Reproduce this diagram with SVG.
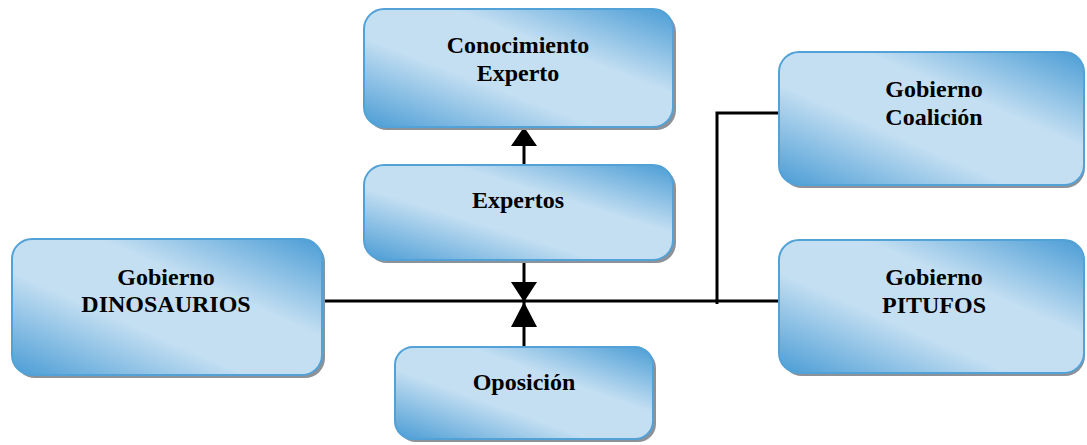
<svg xmlns="http://www.w3.org/2000/svg" width="1087" height="445" viewBox="0 0 1087 445">
<style>
.box{fill:url(#g);stroke:#52a2d8;stroke-width:2}
.sh{fill:#8c9298}
.t{font-family:"Liberation Serif","Times New Roman",serif;font-weight:bold;font-size:24px;fill:#000;text-anchor:middle}
.c{stroke:#000;stroke-width:3;fill:none}
.a{fill:#000}
</style>
<defs>
<linearGradient id="g" x1="0" y1="1" x2="1" y2="0">
<stop offset="0" stop-color="#4a9cd5"/>
<stop offset="0.38" stop-color="#c4dff2"/>
<stop offset="0.64" stop-color="#c4dff2"/>
<stop offset="1" stop-color="#4a9cd5"/>
</linearGradient>
</defs>
<rect width="1087" height="445" fill="#fff"/>
<g id="connectors">
<path class="c" d="M322 301 H779"/>
<path class="c" d="M717 304 V113 H779"/>
<path class="c" d="M524 127 V165"/>
<path class="c" d="M524 260 V347"/>
<polygon class="a" points="524,127 511,146 537,146"/>
<polygon class="a" points="524,302 511,282 537,282"/>
<polygon class="a" points="524,302 511,327 537,327"/>
</g>
<g id="conocimiento">
<rect class="sh" x="367" y="12" width="309" height="118" rx="20"/>
<rect class="box" x="364" y="9" width="309" height="118" rx="20"/>
<text class="t" x="518" y="53">Conocimiento</text>
<text class="t" x="518" y="81">Experto</text>
</g>
<g id="expertos">
<rect class="sh" x="367" y="168" width="309" height="95" rx="20"/>
<rect class="box" x="364" y="165" width="309" height="95" rx="20"/>
<text class="t" x="518" y="208">Expertos</text>
</g>
<g id="dinosaurios">
<rect class="sh" x="15" y="242" width="310" height="136" rx="20"/>
<rect class="box" x="12" y="239" width="310" height="136" rx="20"/>
<text class="t" x="166" y="285">Gobierno</text>
<text class="t" x="166" y="312">DINOSAURIOS</text>
</g>
<g id="oposicion">
<rect class="sh" x="398" y="350" width="258" height="92" rx="18"/>
<rect class="box" x="395" y="347" width="258" height="92" rx="18"/>
<text class="t" x="524" y="390">Oposición</text>
</g>
<g id="coalicion">
<rect class="sh" x="782" y="55" width="303" height="133" rx="20"/>
<rect class="box" x="779" y="52" width="305" height="133" rx="20"/>
<text class="t" x="934" y="97">Gobierno</text>
<text class="t" x="934" y="125">Coalición</text>
</g>
<g id="pitufos">
<rect class="sh" x="782" y="243" width="303" height="133" rx="20"/>
<rect class="box" x="779" y="240" width="305" height="133" rx="20"/>
<text class="t" x="934" y="285">Gobierno</text>
<text class="t" x="934" y="313">PITUFOS</text>
</g>
</svg>
